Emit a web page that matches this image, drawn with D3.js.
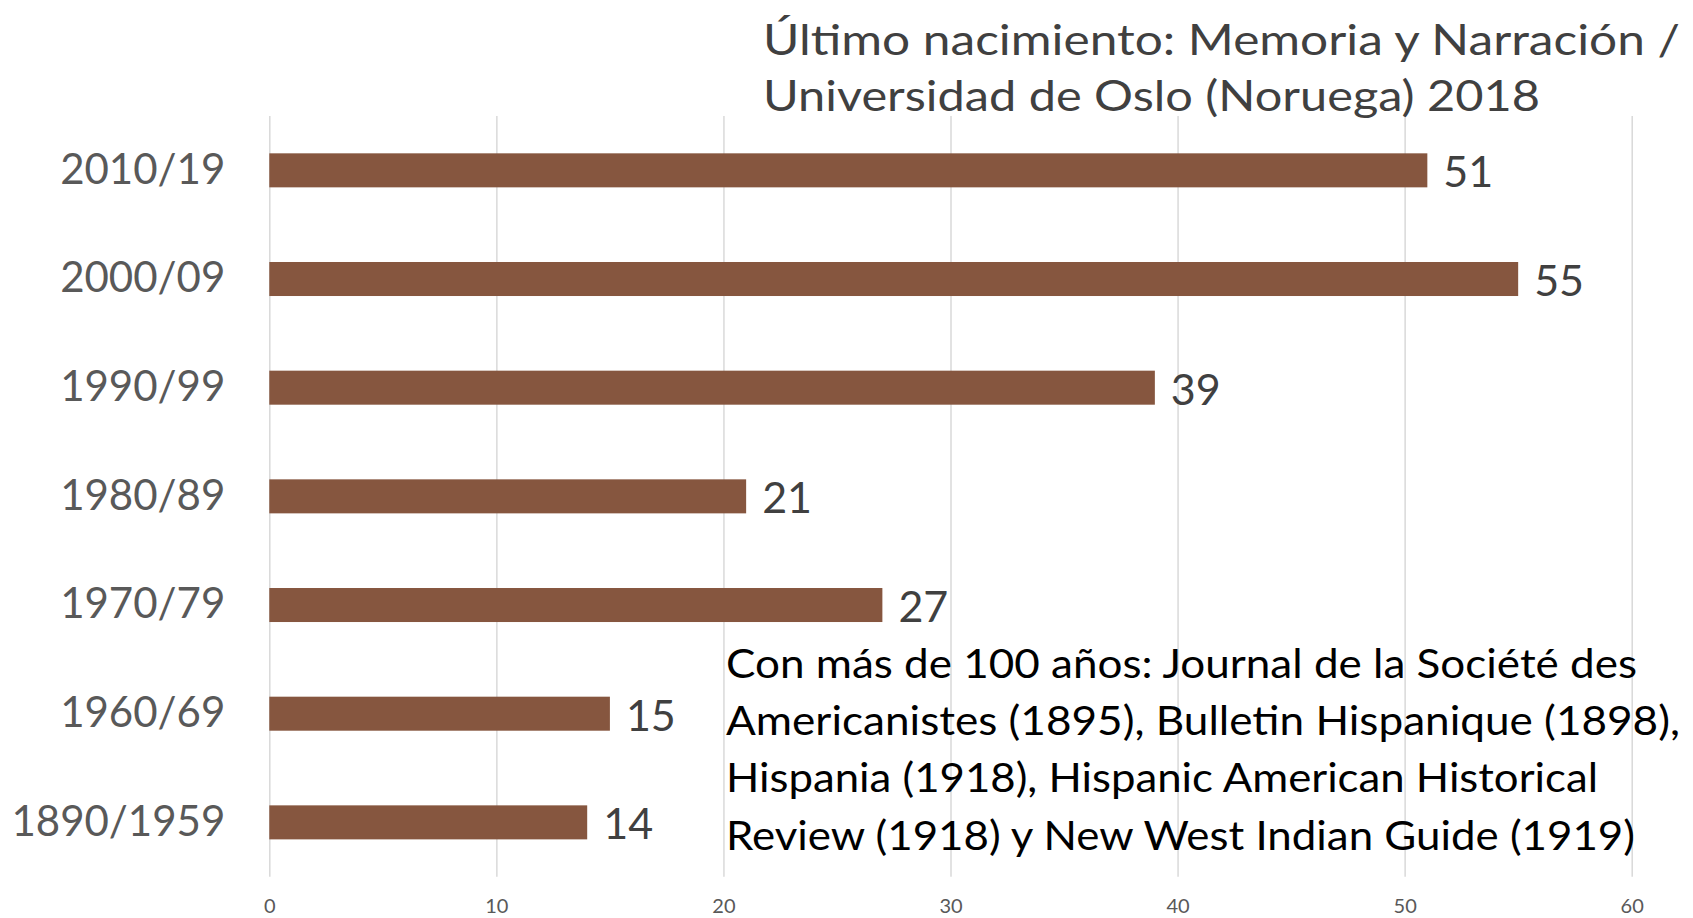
<!doctype html>
<html>
<head>
<meta charset="utf-8">
<script src="https://d3js.org/d3.v7.min.js"></script>
<style>
  body { margin: 0; background: #fff; }
  svg { display: block; font-family: Lato, "Open Sans", sans-serif; }
</style>
</head>
<body>
<div id="chart"></div>
<script>
// data
var categories = ["2010/19", "2000/09", "1990/99", "1980/89", "1970/79", "1960/69", "1890/1959"];
var values = [51, 55, 39, 21, 27, 15, 14];
var xTicks = [0, 10, 20, 30, 40, 50, 60];
var titleLines = ["Último nacimiento: Memoria y Narración /", "Universidad de Oslo (Noruega) 2018"];
var noteLines = [
  "Con más de 100 años: Journal de la Société des",
  "Americanistes (1895), Bulletin Hispanique (1898),",
  "Hispania (1918), Hispanic American Historical",
  "Review (1918) y New West Indian Guide (1919)"
];

var width = 1693, height = 918;
var plot = {left: 269.3, right: 1631.7, top: 116, bottom: 876.7};

var svg = d3.select("#chart").append("svg")
  .attr("width", width)
  .attr("height", height);

var x = d3.scaleLinear().domain([0, 60]).range([plot.left, plot.right]);
var y = d3.scaleBand().domain(categories).range([plot.top, plot.bottom])
  .paddingInner(0.687).paddingOuter(0.3435);

// vertical gridlines + tick labels
var xAxis = svg.append("g")
  .attr("transform", "translate(0," + plot.bottom + ")")
  .call(d3.axisBottom(x).tickValues(xTicks).tickSize(-(plot.bottom - plot.top)).tickSizeOuter(0).tickPadding(22));
xAxis.select(".domain").remove();
xAxis.selectAll(".tick line").attr("stroke", "#d9d9d9").attr("stroke-width", 1.5);
xAxis.selectAll(".tick text").attr("fill", "#595959").style("font-size", "20px").style("font-family", "Lato, sans-serif");

// category labels
var yAxis = svg.append("g")
  .attr("transform", "translate(" + plot.left + ",0)")
  .call(d3.axisLeft(y).tickSize(0).tickPadding(44));
yAxis.select(".domain").remove();
yAxis.selectAll(".tick text").attr("fill", "#595959").style("font-size", "42px").style("font-family", "Lato, sans-serif");

// bars
svg.append("g").selectAll("rect")
  .data(categories)
  .join("rect")
  .attr("x", x(0))
  .attr("y", function(d) { return y(d); })
  .attr("width", function(d, i) { return x(values[i]) - x(0); })
  .attr("height", y.bandwidth())
  .attr("fill", "#86563f");

// value labels
svg.append("g").selectAll("text")
  .data(categories)
  .join("text")
  .attr("x", function(d, i) { return x(values[i]) + 16; })
  .attr("y", function(d) { return y(d) + y.bandwidth(); })
  .attr("fill", "#404040")
  .style("font-size", "43px")
  .text(function(d, i) { return values[i]; });

// title, top right
var titleWidths = [917, 777];
svg.append("g").selectAll("text")
  .data(titleLines)
  .join("text")
  .attr("x", 763)
  .attr("y", function(d, i) { return 55 + i * 56; })
  .attr("fill", "#404040")
  .style("font-size", "42px")
  .attr("textLength", function(d, i) { return titleWidths[i]; })
  .attr("lengthAdjust", "spacingAndGlyphs")
  .text(function(d) { return d; });

// note over the lower bars
var noteWidths = [911, 954, 872, 909];
svg.append("g").selectAll("text")
  .data(noteLines)
  .join("text")
  .attr("x", 726)
  .attr("y", function(d, i) { return 678 + i * 57.2; })
  .attr("fill", "#000")
  .style("font-size", "41px")
  .attr("textLength", function(d, i) { return noteWidths[i]; })
  .attr("lengthAdjust", "spacingAndGlyphs")
  .text(function(d) { return d; });
</script>
</body>
</html>
